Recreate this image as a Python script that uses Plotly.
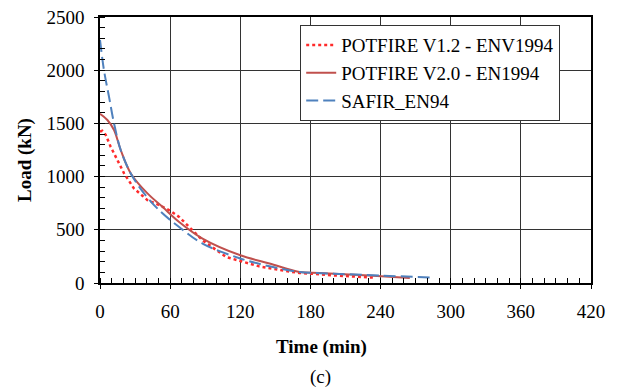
import plotly.graph_objects as go

# Data (time in min, load in kN)
t_v12 = [0, 2, 4.9, 9.1, 14.9, 20.6, 29, 40.6, 50.6, 60, 67.7, 76.3, 87.7, 107.7, 120, 136, 159, 170.6, 187.7, 199, 233.4]
load_v12 = [1422, 1430, 1391, 1281, 1155, 1030, 889, 779, 732, 680, 621, 527, 402, 245, 204, 157, 113, 94, 82, 72, 51]

t_v20 = [0, 6.3, 12, 17.7, 26.3, 40.6, 53.4, 67.7, 87.7, 120, 145, 170.6, 188, 230, 265]
load_v20 = [1590, 1532, 1438, 1250, 1030, 842, 716, 574, 418, 261, 183, 104, 94, 70, 47]

t_safir = [0, 3.4, 7.7, 12, 17.7, 26.3, 37.7, 52, 67.7, 87.7, 120, 145, 170.6, 200, 239, 286]
load_safir = [2285, 2000, 1751, 1500, 1250, 1030, 842, 669, 527, 371, 230, 157, 104, 88, 70, 51]

names = ["POTFIRE V1.2 - ENV1994", "POTFIRE V2.0 - EN1994", "SAFIR_EN94"]
x_ticks = [0, 60, 120, 180, 240, 300, 360, 420]
y_ticks = [0, 500, 1000, 1500, 2000, 2500]

FONT = "'Liberation Serif', 'Times New Roman', Times, serif"
FS = 19

fig = go.Figure()
fig.add_trace(go.Scatter(x=t_v12, y=load_v12, mode="lines", name=names[0], legendgroup="a",
                         line=dict(color="#FF2A2A", width=2.5, dash="dot")))
fig.add_trace(go.Scatter(x=t_v20, y=load_v20, mode="lines", name=names[1], legendgroup="b",
                         line=dict(color="#C0504D", width=2, shape="spline")))
fig.add_trace(go.Scatter(x=t_safir, y=load_safir, mode="lines", name=names[2], legendgroup="c",
                         line=dict(color="#4F81BD", width=2, dash="12px,5px", shape="spline")))

OFF = 8  # page body margin
W, H = 617 - OFF, 390 - OFF
L, T = 100 - OFF, 17 - OFF
R = W - (591 - OFF)
B = H - (283 - OFF)
pw, ph = W - L - R, H - T - B

def px(xp):
    return (xp - OFF - L) / pw

def py(yp):
    return (H - B - (yp - OFF)) / ph

fig.update_layout(
    width=W, height=H,
    margin=dict(l=L, r=R, t=T, b=B, autoexpand=False),
    paper_bgcolor="white", plot_bgcolor="white",
    font=dict(family=FONT, size=FS, color="black"),
    showlegend=True,
    legend=dict(x=px(300), y=py(25), xanchor="left", yanchor="top",
                bordercolor="#333333", borderwidth=1.2, bgcolor="white",
                font=dict(family=FONT, size=FS), tracegroupgap=0),
    xaxis=dict(range=[0, 420], tickvals=x_ticks, ticktext=[str(v) for v in x_ticks],
               showgrid=True, gridcolor="#333333", gridwidth=1.2, automargin=False,
               showline=True, linecolor="black", linewidth=1.5, mirror=True,
               ticks="outside", ticklen=4, tickcolor="black", tickwidth=1.2,
               minor=dict(dtick=10, ticks="inside", ticklen=5, tickcolor="black", tickwidth=1, showgrid=False),
               ticklabelstandoff=6, zeroline=False, ticklabeloverflow="allow",
               tickfont=dict(family=FONT, size=FS)),
    yaxis=dict(range=[0, 2500], tickvals=y_ticks, ticktext=[str(v) for v in y_ticks],
               showgrid=True, gridcolor="#333333", gridwidth=1.2, automargin=False,
               showline=True, linecolor="black", linewidth=1.5, mirror=True,
               ticks="outside", ticklen=4, tickcolor="black", tickwidth=1.2,
               minor=dict(dtick=100, ticks="inside", ticklen=5, tickcolor="black", tickwidth=1, showgrid=False),
               ticklabelstandoff=6, zeroline=False, ticklabeloverflow="allow",
               tickfont=dict(family=FONT, size=FS)),
    annotations=[
        dict(text="<b>Time (min)</b>", xref="paper", yref="paper", x=px(321), y=py(347),
             showarrow=False, xanchor="center", yanchor="middle", font=dict(family=FONT, size=FS)),
        dict(text="(c)", xref="paper", yref="paper", x=px(320), y=py(377),
             showarrow=False, xanchor="center", yanchor="middle", font=dict(family=FONT, size=FS)),
        dict(text="<b>Load (kN)</b>", xref="paper", yref="paper", x=px(25), y=py(160),
             showarrow=False, xanchor="center", yanchor="middle", textangle=-90,
             font=dict(family=FONT, size=FS)),
    ],
)

fig.write_html("out.html")
